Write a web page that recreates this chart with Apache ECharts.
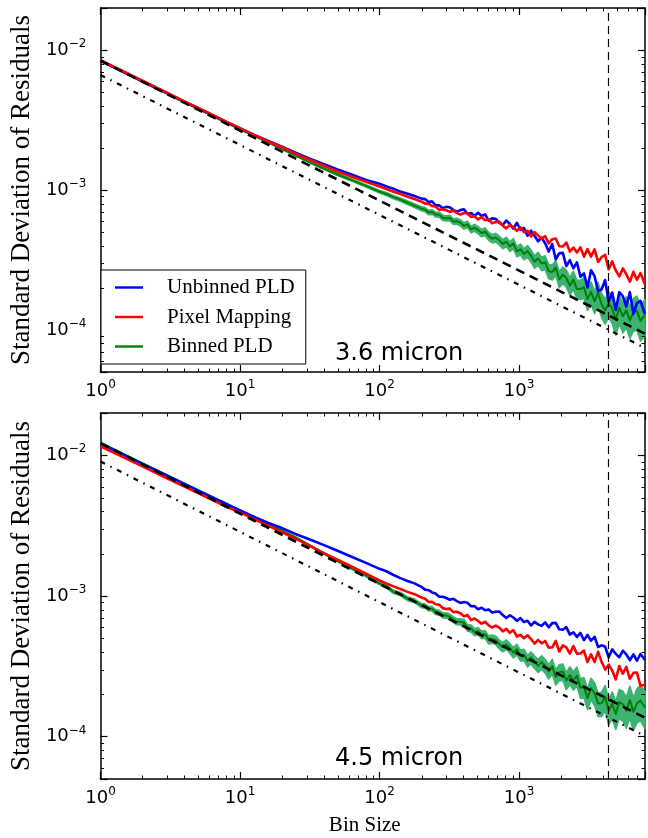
<!DOCTYPE html>
<html>
<head>
<meta charset="utf-8">
<title>Residual RMS vs bin size</title>
<script src="https://cdn.jsdelivr.net/npm/echarts@6/dist/echarts.min.js"></script>
<style>
  html, body { margin: 0; padding: 0; background: #fff; }
  #chart { width: 648px; height: 838px; }
</style>
</head>
<body>
<div id="chart"></div>
<script>
// Bin sizes (number of frames per bin) at which the residual scatter is evaluated
const binSizes = [1, 2, 3, 4, 6, 8, 10, 13, 16, 20, 25, 32, 40, 50, 63, 80, 100, 112, 126, 141, 159, 178, 200,
  212, 225, 238, 252, 268, 284, 301, 319, 338, 358, 380, 403, 427, 453, 480, 509, 539, 572, 606, 642, 681,
  722, 765, 811, 860, 911, 966, 1024, 1085, 1150, 1219, 1292, 1370, 1452, 1539, 1632, 1730, 1833, 1943,
  2060, 2184, 2315, 2453, 2601, 2757, 2922, 3097, 3283, 3480, 3689, 3910, 4145, 4393, 4657, 4937, 5233,
  5547, 5880, 6232, 6606, 7003, 7423, 8000];

// Standard deviation of the residuals, in units of 1e-4
const UNIT = 1e-4;

// 3.6 micron channel
const unbinned36 = [84.0, 59.9, 49.3, 42.7, 35.2, 30.7, 27.6, 24.5, 22.4, 20.4, 18.5, 16.7, 15.3, 14.0, 12.9, 11.8, 11.1, 10.6, 10.2, 9.74, 9.41, 9.05, 8.68,
  8.61, 8.19, 8.29, 7.78, 7.76, 7.40, 7.58, 7.52, 7.22, 7.01, 7.18, 7.28, 6.74, 6.86, 6.54, 6.87, 6.52, 6.69, 6.05, 6.27,
  6.22, 5.83, 5.63, 6.05, 5.71, 5.29, 5.83, 5.19, 5.35, 4.71, 5.12, 4.71, 4.30, 4.56, 4.16, 3.63, 4.10, 3.20, 3.53, 3.55,
  2.86, 3.15, 2.76, 3.04, 2.40, 2.53, 2.01, 2.67, 2.42, 1.89, 1.95, 2.27, 1.59, 1.85, 1.39, 1.86, 1.74, 1.47, 1.86, 1.30,
  1.55, 1.61, 1.30];
const pixelMap36 = [84.7, 60.4, 49.7, 43.0, 35.4, 30.7, 27.7, 24.5, 22.2, 20.2, 18.2, 16.4, 14.9, 13.55, 12.5, 11.45, 10.6, 10.16, 9.73, 9.35, 8.96, 8.61, 8.26,
  7.99, 8.01, 7.68, 7.63, 7.21, 7.29, 7.17, 6.97, 7.13, 6.86, 6.66, 6.85, 6.84, 6.41, 6.49, 6.16, 6.41, 6.08, 6.17, 5.78,
  5.90, 5.94, 5.56, 5.32, 5.63, 5.42, 5.10, 5.41, 5.00, 5.11, 4.66, 5.00, 4.74, 4.48, 4.68, 4.15, 4.45, 4.50, 3.96, 3.95,
  4.21, 3.63, 3.88, 3.58, 3.89, 3.34, 3.78, 3.34, 3.76, 3.06, 3.32, 3.44, 2.71, 3.09, 2.66, 2.41, 2.75, 2.50, 2.21, 2.60,
  2.28, 2.55, 2.12];
const binned36 = [83.6, 59.4, 48.9, 42.3, 34.9, 30.2, 27.2, 24.1, 21.9, 19.7, 17.7, 15.7, 14.2, 12.9, 11.8, 10.7, 9.74, 9.36, 8.89, 8.55, 8.11, 7.74, 7.36,
  7.24, 6.90, 6.96, 6.69, 6.66, 6.34, 6.27, 6.31, 5.95, 5.99, 5.83, 5.54, 5.68, 5.23, 5.37, 5.17, 4.93, 5.03, 4.68, 4.49,
  4.58, 4.37, 4.11, 4.27, 3.95, 4.15, 3.64, 3.77, 3.49, 3.66, 3.39, 3.07, 3.24, 2.98, 3.04, 2.63, 2.59, 2.80, 2.30, 2.48,
  2.35, 2.07, 2.29, 1.96, 1.96, 2.02, 1.66, 1.87, 1.60, 1.84, 1.52, 1.38, 1.55, 1.42, 1.18, 1.44, 1.25, 1.38, 1.17, 1.33,
  1.37, 1.16, 1.28];

// 4.5 micron channel
const unbinned45 = [121, 87.0, 71.6, 62.5, 51.4, 44.9, 40.6, 36.1, 33.1, 30.4, 27.6, 25.1, 23.0, 21.0, 19.0, 17.2, 15.6, 15.0, 14.1, 13.4, 12.8, 12.3, 11.6,
  11.1, 11.0, 10.6, 10.4, 9.87, 9.87, 9.67, 9.41, 9.56, 9.20, 8.93, 9.05, 8.94, 8.45, 8.47, 8.06, 8.25, 7.92, 8.01, 7.62,
  7.73, 7.75, 7.32, 6.98, 7.30, 7.03, 6.65, 6.96, 6.53, 6.66, 6.17, 6.55, 6.29, 6.13, 6.50, 5.99, 6.41, 6.44, 5.80, 5.75,
  6.01, 5.31, 5.52, 5.12, 5.46, 4.85, 5.29, 4.81, 5.13, 4.34, 4.46, 4.36, 3.67, 4.17, 3.88, 3.67, 4.08, 3.84, 3.50, 3.84,
  3.47, 3.87, 3.51];
const pixelMap45 = [116, 83.5, 68.7, 60.0, 49.4, 43.1, 39.3, 34.6, 31.5, 28.4, 25.6, 22.6, 20.1, 18.1, 16.2, 14.4, 12.9, 12.3, 11.7, 11.2, 10.7, 10.3, 9.76,
  9.56, 9.07, 9.11, 8.73, 8.66, 8.20, 8.07, 8.13, 7.68, 7.73, 7.55, 7.16, 7.33, 6.74, 6.92, 6.65, 6.36, 6.56, 6.18, 5.97,
  6.16, 5.95, 5.61, 5.84, 5.47, 5.73, 5.15, 5.30, 5.00, 5.26, 4.94, 4.59, 4.88, 4.61, 4.79, 4.29, 4.32, 4.79, 4.03, 4.46,
  4.32, 3.90, 4.41, 3.88, 3.91, 4.09, 3.39, 3.85, 3.39, 4.01, 3.40, 3.00, 3.25, 2.95, 2.55, 3.18, 2.80, 3.13, 2.58, 2.84,
  2.86, 2.30, 2.34];
const binned45 = [123, 87.8, 72.2, 63.0, 51.9, 45.3, 40.6, 35.8, 32.6, 29.2, 26.1, 22.7, 20.1, 17.8, 15.8, 14.0, 12.3, 11.7, 10.7, 10.35, 9.55, 9.25, 8.55,
  8.49, 8.15, 8.12, 7.70, 7.61, 7.29, 7.28, 7.12, 6.81, 6.56, 6.55, 6.47, 5.94, 5.88, 5.54, 5.63, 5.30, 5.34, 4.88, 4.94,
  4.85, 4.54, 4.34, 4.52, 4.26, 3.96, 4.18, 3.78, 3.83, 3.46, 3.65, 3.40, 3.20, 3.38, 3.19, 2.91, 3.16, 2.66, 2.87, 2.90,
  2.51, 2.74, 2.52, 2.71, 2.23, 2.26, 1.88, 2.21, 2.04, 1.72, 1.73, 1.92, 1.53, 1.71, 1.45, 1.76, 1.70, 1.53, 1.82, 1.50,
  1.72, 1.81, 1.61];

// Fractional uncertainty of the binned-PLD scatter (shaded band)
const binnedErr = [0.003, 0.004, 0.005, 0.005, 0.006, 0.007, 0.008, 0.009, 0.010, 0.011, 0.012, 0.014, 0.015, 0.017, 0.019, 0.021, 0.024, 0.025, 0.027, 0.028, 0.030, 0.032, 0.034,
  0.036, 0.037, 0.039, 0.040, 0.041, 0.043, 0.044, 0.046, 0.047, 0.049, 0.051, 0.052, 0.054, 0.056, 0.058, 0.060, 0.062, 0.064, 0.066, 0.068,
  0.071, 0.073, 0.076, 0.078, 0.081, 0.084, 0.087, 0.090, 0.093, 0.096, 0.100, 0.103, 0.107, 0.110, 0.114, 0.118, 0.122, 0.126, 0.131, 0.135,
  0.140, 0.145, 0.150, 0.155, 0.160, 0.166, 0.172, 0.178, 0.184, 0.190, 0.197, 0.204, 0.211, 0.218, 0.225, 0.233, 0.241, 0.249, 0.257, 0.265,
  0.274, 0.283, 0.295];

// Reference power laws (end points; straight lines in log-log space)
const refBins = [1, 8000];
const sqrtScaling36 = [84.0, 0.939];
const photonLimit36 = [66.4, 0.742];
const sqrtScaling45 = [122, 1.364];
const photonLimit45 = [90.4, 1.011];

// Vertical marker
const markerBin = 4380;

// Axis ranges and minor tick positions
const X_MIN = 1, X_MAX = 8000;
const Y_MIN = 5e-5, Y_MAX = 2e-2;
const xMinorTicks = [2, 3, 4, 5, 6, 7, 8, 9, 20, 30, 40, 50, 60, 70, 80, 90, 200, 300, 400, 500, 600, 700, 800, 900,
  2000, 3000, 4000, 5000, 6000, 7000];
const yMinorTicks = [6e-5, 7e-5, 8e-5, 9e-5, 2e-4, 3e-4, 4e-4, 5e-4, 6e-4, 7e-4, 8e-4, 9e-4,
  2e-3, 3e-3, 4e-3, 5e-3, 6e-3, 7e-3, 8e-3, 9e-3];

const panelLabels = ['3.6 micron', '4.5 micron'];
const seriesNames = ['Unbinned PLD', 'Pixel Mapping', 'Binned PLD'];
const seriesColors = ['#0000ff', '#ff0000', '#008000'];

const panels = [
  { unbinned: unbinned36, pixel: pixelMap36, binned: binned36, sqrtLine: sqrtScaling36, photonLine: photonLimit36 },
  { unbinned: unbinned45, pixel: pixelMap45, binned: binned45, sqrtLine: sqrtScaling45, photonLine: photonLimit45 }
];

const grids = [
  { left: 91, top: 8, width: 558, height: 364 },
  { left: 91, top: 413, width: 558, height: 366 }
];

const SANS = 'DejaVu Sans';
const SERIF = 'Liberation Serif';

function powerLabel(v) {
  const e = Math.log10(v);
  const r = Math.round(e);
  if (Math.abs(e - r) > 1e-6) return '';
  const exp = r < 0 ? '\u2212' + (-r) : String(r);
  return '{b|10}{e|' + exp + '}';
}

const labelRich = {
  b: { fontFamily: SANS, fontSize: 18, color: '#000', lineHeight: 24, verticalAlign: 'middle' },
  e: { fontFamily: SANS, fontSize: 12, color: '#000', lineHeight: 14, verticalAlign: 'top' }
};

function toPairs(vals) {
  return binSizes.map((n, i) => [n, vals[i] * UNIT]);
}

function makeAxes(g) {
  const spine = { show: true, onZero: false, lineStyle: { color: '#000', width: 1.5 } };
  const tick = { show: true, inside: true, length: 7, lineStyle: { color: '#000', width: 1.2 } };
  const common = { type: 'log', logBase: 10, gridIndex: g, axisLine: spine, axisTick: tick, splitLine: { show: false } };
  const xs = [
    Object.assign({}, common, {
      min: X_MIN, max: X_MAX, position: 'bottom',
      axisLabel: { show: true, margin: 7, formatter: powerLabel, rich: labelRich },
      name: g === 1 ? 'Bin Size' : '', nameLocation: 'middle', nameGap: 36,
      nameTextStyle: { fontFamily: SERIF, fontSize: 21, color: '#000', padding: [0, 16, 0, 0] }
    }),
    Object.assign({}, common, { min: X_MIN, max: X_MAX, position: 'top', axisLabel: { show: false } })
  ];
  const ys = [
    Object.assign({}, common, {
      min: Y_MIN, max: Y_MAX, position: 'left',
      axisLabel: { show: true, margin: 14, formatter: powerLabel, rich: labelRich },
      name: 'Standard Deviation of Residuals', nameLocation: 'middle', nameGap: 61,
      nameTextStyle: { fontFamily: SERIF, fontSize: 27, color: '#000' }
    }),
    Object.assign({}, common, { min: Y_MIN, max: Y_MAX, position: 'right', axisLabel: { show: false } })
  ];
  return { xs, ys };
}

function bandRenderer(vals) {
  return function (params, api) {
    const upper = binSizes.map((n, i) => api.coord([n, vals[i] * UNIT * (1 + binnedErr[i])]));
    const lower = binSizes.map((n, i) => api.coord([n, vals[i] * UNIT * (1 - binnedErr[i])])).reverse();
    return {
      type: 'polygon',
      shape: { points: upper.concat(lower) },
      style: { fill: '#3cb371', stroke: '#3cb371', lineWidth: 1.5, lineJoin: 'round' }
    };
  };
}

function minorTickRenderer(params, api) {
  const cs = params.coordSys;
  const kind = api.value(2);
  const p = api.coord([api.value(0), api.value(1)]);
  const style = { stroke: '#000', lineWidth: 1 };
  const L = 3.5;
  if (kind === 0) {
    const x = Math.round(p[0]) + 0.5;
    return {
      type: 'group', children: [
        { type: 'line', shape: { x1: x, y1: cs.y + cs.height, x2: x, y2: cs.y + cs.height - L }, style },
        { type: 'line', shape: { x1: x, y1: cs.y, x2: x, y2: cs.y + L }, style }
      ]
    };
  }
  const y = Math.round(p[1]) + 0.5;
  return {
    type: 'group', children: [
      { type: 'line', shape: { x1: cs.x, y1: y, x2: cs.x + L, y2: y }, style },
      { type: 'line', shape: { x1: cs.x + cs.width, y1: y, x2: cs.x + cs.width - L, y2: y }, style }
    ]
  };
}

const xAxis = [], yAxis = [], series = [];

panels.forEach((pd, g) => {
  const ax = makeAxes(g);
  xAxis.push(ax.xs[0], ax.xs[1]);
  yAxis.push(ax.ys[0], ax.ys[1]);
  const xi = g * 2, yi = g * 2;

  const line = (name, vals, color, width) => ({
    type: 'line', name, xAxisIndex: xi, yAxisIndex: yi,
    data: toPairs(vals), showSymbol: false, symbol: 'none',
    lineStyle: { color, width, join: 'round' }, itemStyle: { color },
    emphasis: { disabled: true }, silent: true
  });

  series.push({
    type: 'custom', name: 'band' + g, xAxisIndex: xi, yAxisIndex: yi,
    data: [[binSizes[0], pd.binned[0] * UNIT]], renderItem: bandRenderer(pd.binned), silent: true
  });
  series.push(line(seriesNames[2], pd.binned, seriesColors[2], 2.0));
  series.push(line(seriesNames[0], pd.unbinned, seriesColors[0], 2.6));
  series.push(line(seriesNames[1], pd.pixel, seriesColors[1], 2.6));

  series.push({
    type: 'line', name: 'sqrt' + g, xAxisIndex: xi, yAxisIndex: yi,
    data: refBins.map((n, i) => [n, pd.sqrtLine[i] * UNIT]), symbol: 'none', silent: true,
    lineStyle: { color: '#000', width: 2.6, type: [9, 6] }
  });
  series.push({
    type: 'line', name: 'photon' + g, xAxisIndex: xi, yAxisIndex: yi,
    data: refBins.map((n, i) => [n, pd.photonLine[i] * UNIT]), symbol: 'none', silent: true,
    lineStyle: { color: '#000', width: 2.2, type: [5, 6, 1.5, 6] }
  });
  series.push({
    type: 'line', name: 'marker' + g, xAxisIndex: xi, yAxisIndex: yi,
    data: [[markerBin, Y_MIN], [markerBin, Y_MAX]], symbol: 'none', silent: true,
    lineStyle: { color: '#000', width: 1.2, type: [8, 5] }
  });

  const tickData = xMinorTicks.map(v => [v, Y_MIN, 0]).concat(yMinorTicks.map(v => [X_MIN, v, 1]));
  series.push({
    type: 'custom', name: 'minor' + g, xAxisIndex: xi, yAxisIndex: yi,
    data: tickData, renderItem: minorTickRenderer, silent: true, clip: false, z: 5
  });
});

const chart = echarts.init(document.getElementById('chart'), null, { renderer: 'canvas' });
chart.setOption({
  animation: false,
  backgroundColor: '#fff',
  grid: grids.map(r => Object.assign({ containLabel: false }, r)),
  xAxis, yAxis, series,
  legend: {
    data: seriesNames.map((n, i) => ({ name: n, icon: 'rect', itemStyle: { color: seriesColors[i] } })),
    left: 101, top: 270, orient: 'vertical',
    backgroundColor: '#fff', borderColor: '#000', borderWidth: 1, borderRadius: 0,
    padding: [7, 11, 7, 14],
    itemWidth: 28, itemHeight: 2.4, itemGap: 8.5,
    selectedMode: false,
    textStyle: { fontFamily: SERIF, fontSize: 21, color: '#000', padding: [0, 0, 0, 19] }
  },
  graphic: panelLabels.map((t, g) => ({
    type: 'text', left: 335, top: g === 0 ? 342 : 747, silent: true,
    style: { text: t, font: '24px "' + SANS + '"', fill: '#000' }
  }))
});
</script>
</body>
</html>
